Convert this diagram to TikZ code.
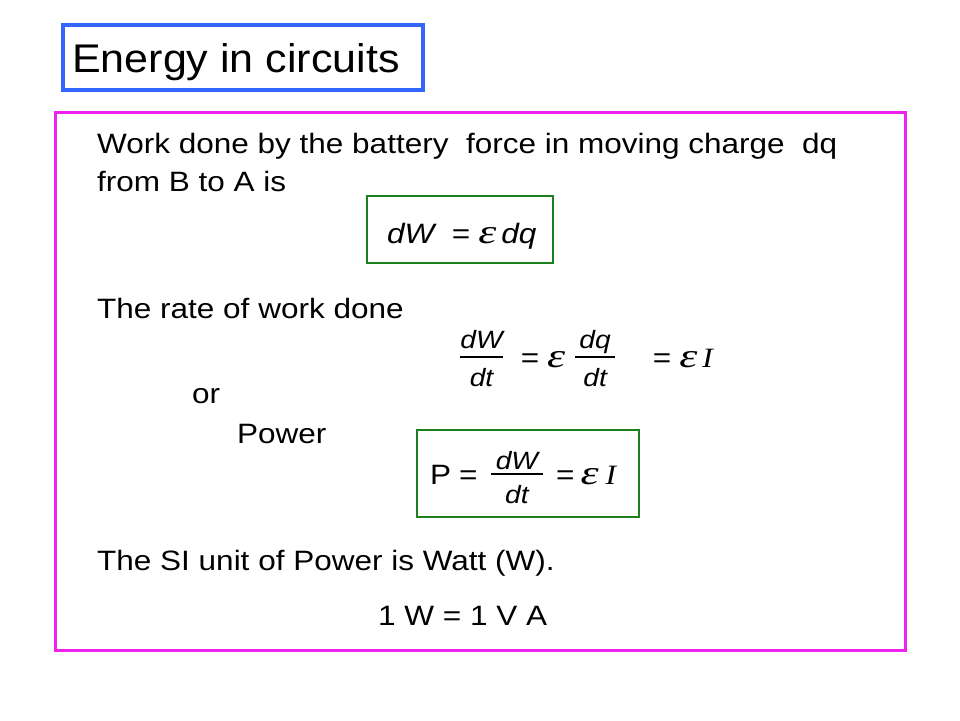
\documentclass[tikz,border=0pt]{standalone}
\usepackage{amsmath}
\usepackage{fontspec}
\setmainfont[FakeStretch=1.125]{Liberation Sans}
\newfontfamily\titlefont[FakeStretch=1.075]{Liberation Sans}
\newfontfamily\serifit[FakeStretch=1.125]{Liberation Serif}
\newfontfamily\epsfont[FakeStretch=1.35]{Liberation Serif}
\usetikzlibrary{positioning}
\definecolor{titleblue}{RGB}{51,102,255}
\definecolor{slidemagenta}{RGB}{238,34,238}
\definecolor{boxgreen}{RGB}{30,128,30}
% fraction with a thick bar, gaps set by struts
\newlength\numgap
\setlength\numgap{5pt}
\newcommand\ratio[3][0pt]{\raisebox{4pt}{$\genfrac{}{}{2pt}{1}%
	{\textstyle\text{\fontsize{25}{30}\selectfont\itshape\hspace{#1}#2\hspace{#1}\rule[-\numgap]{0pt}{\numgap}}}%
	{\textstyle\text{\fontsize{25}{30}\selectfont\itshape\rule{0pt}{26.5pt}#3}}$}}
\newcommand\emf{{\epsfont\itshape\fontsize{34}{34}\selectfont ε}}
\newcommand\cur{{\serifit\itshape I}}
\begin{document}
\begin{tikzpicture}[x=1pt,y=-1pt,
	every node/.style={inner sep=0pt,font=\fontsize{28}{34}\selectfont},
	line/.style={anchor=base west},
	titleframe/.style={draw=titleblue,line width=3.5pt},
	slideframe/.style={draw=slidemagenta,line width=3pt},
	eqframe/.style={draw=boxgreen,line width=2.5pt}]
	\useasboundingbox (0,0) rectangle (960,720);
	\draw[titleframe] (63,25) rectangle (423,90);
	\node[line,font=\titlefont\fontsize{40}{48}\selectfont] (title) at (72,72) {Energy in circuits};
	\draw[slideframe] (55,112) rectangle (905,650);

	\node[line] (work) at (97,153) {Work done by the battery\ \ force in moving charge\ \ dq};
	\node[line] (from) at (97,191) {from B to A is};
	\draw[eqframe] (367,196) rectangle (553,263);
	\node[line] (dW) at (387,243) {\textit{dW}\hspace{15pt}=\hspace{8pt}\emf\hspace{5pt}\textit{dq}};

	\node[line] (rate) at (97,318) {The rate of work done};
	\node[line] (rateq) at (459,367) {\ratio{dW}{dt}\hspace{17pt}=\hspace{8pt}\emf\hspace{9pt}\ratio[4pt]{dq}{dt}\hspace{37pt}=\hspace{8pt}\emf\hspace{5pt}\cur};
	\node[line] (or) at (192,403) {or};
	\node[line] (power) at (237,443) {Power};
	\draw[eqframe] (417,430) rectangle (639,517);
	\node[line] (P) at (430,484) {\setlength\numgap{1pt}P\hspace{8pt}=\hspace{12pt}\ratio[5pt]{dW}{dt}\hspace{12pt}=\hspace{6pt}\emf\hspace{7pt}\cur};

	\node[line] (unit) at (97,570) {The SI unit of Power is Watt (W).};
	\node[line] (watt) at (378,625) {1 W = 1 V A};
\end{tikzpicture}
\end{document}
